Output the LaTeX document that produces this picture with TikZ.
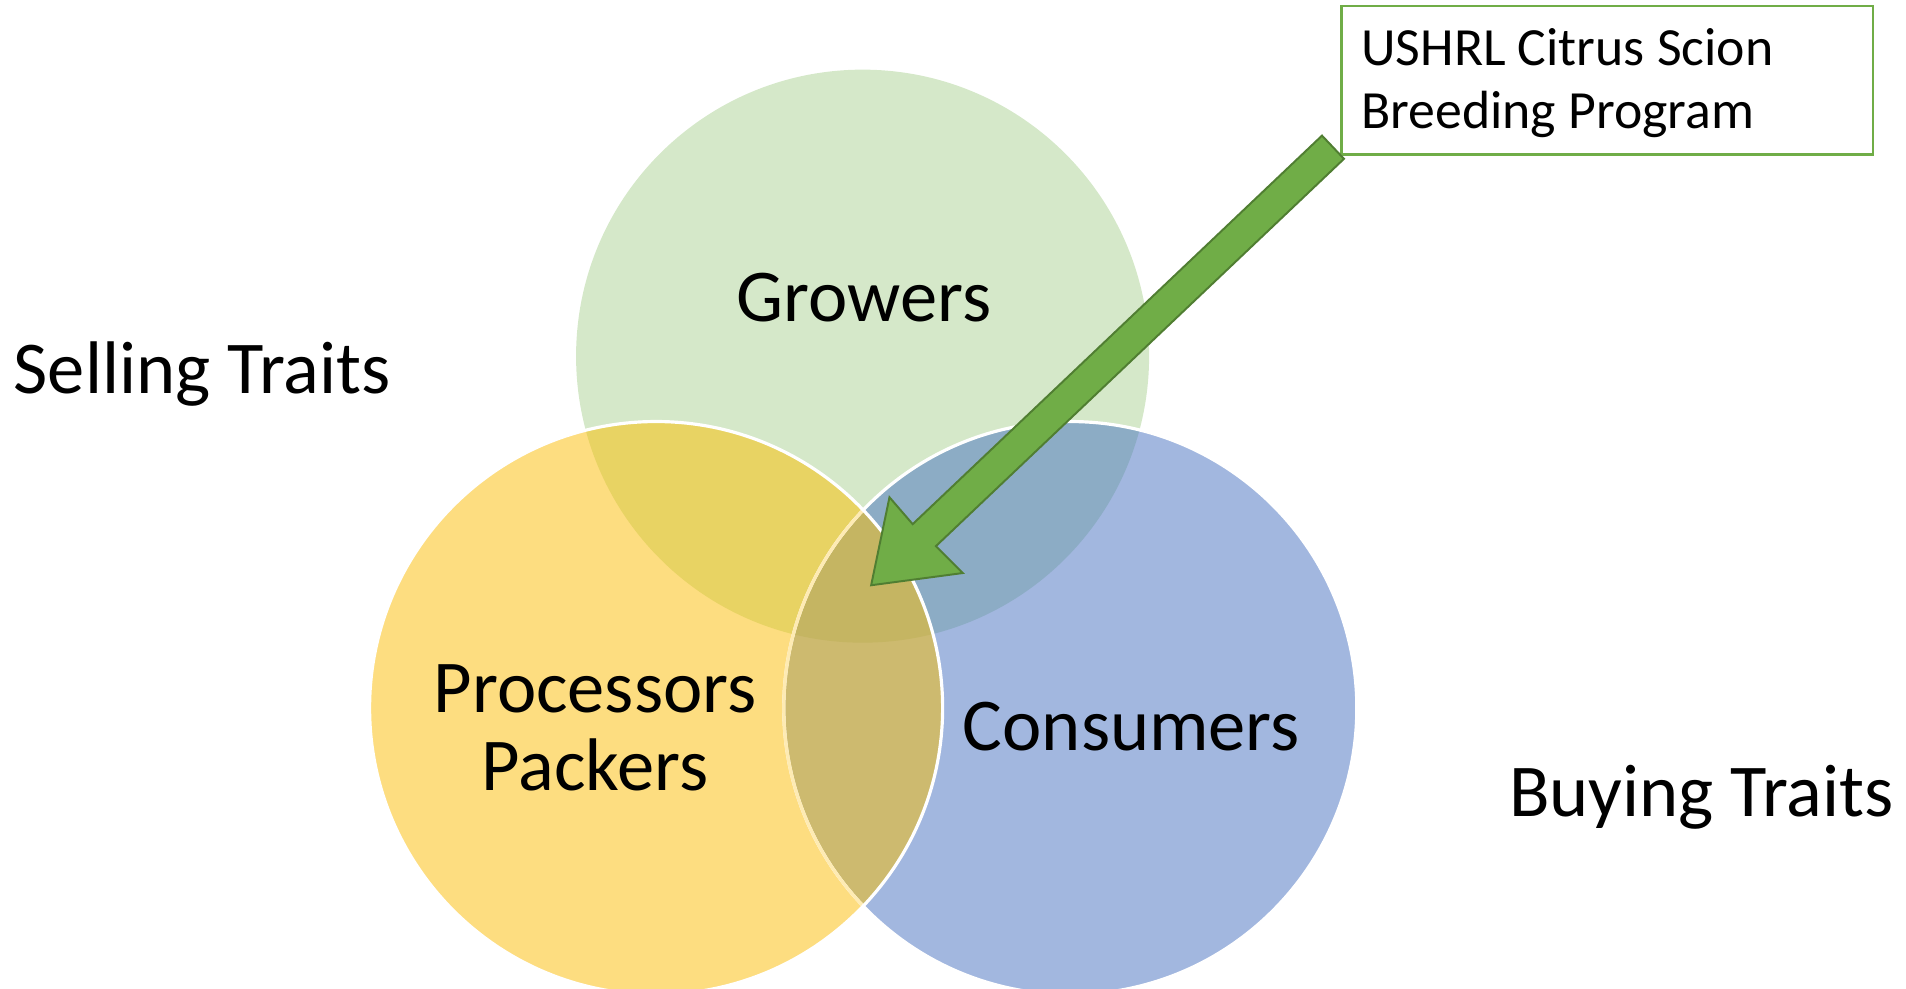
\documentclass[tikz,border=0pt]{standalone}
\usepackage{fontspec}
\setmainfont{Carlito}
\begin{document}
\begin{tikzpicture}[x=1pt,y=-1pt]
\definecolor{gOnly}{HTML}{D5E8C9}
\definecolor{yOnly}{HTML}{FDDD80}
\definecolor{bOnly}{HTML}{A2B7DF}
\definecolor{gyCol}{HTML}{E8D363}
\definecolor{gbCol}{HTML}{8CACC5}
\definecolor{ybCol}{HTML}{CDBA6F}
\definecolor{gybCol}{HTML}{C5B562}
\definecolor{arrFill}{HTML}{70AD47}
\definecolor{arrLine}{HTML}{507E32}
\tikzset{
  lbl/.style={font=\fontsize{61}{73}\selectfont, inner sep=0pt, text=black},
  boxtxt/.style={font=\fontsize{44}{52}\selectfont, inner sep=0pt, text=black, anchor=base west},
  ring/.style={draw=white, line width=2.6pt},
}
\useasboundingbox (0,0) rectangle (1560,808.7);
\def\R{234.5pt}
\coordinate (G) at (706,291.5);
\coordinate (Y) at (537,579.5);
\coordinate (B) at (876,579.5);
% base fills
\fill[gOnly] (G) circle (\R);
\fill[yOnly] (Y) circle (\R);
\fill[bOnly] (B) circle (\R);
% pairwise overlaps
\begin{scope}
  \clip (G) circle (\R);
  \fill[gyCol] (Y) circle (\R);
  \fill[gbCol] (B) circle (\R);
\end{scope}
\begin{scope}
  \clip (Y) circle (\R);
  \fill[ybCol] (B) circle (\R);
  \clip (G) circle (\R);
  \fill[gybCol] (B) circle (\R);
\end{scope}
% outlines
\draw[ring] (B) circle (\R);
\begin{scope}
  \clip (Y) circle (\R);
  \draw[line width=2.6pt, yOnly!60!white] (B) circle (\R);
\end{scope}
\draw[ring] (Y) circle (\R);
% labels
\node[lbl, anchor=base] (growers) at (707,263) {Growers};
\node[lbl, anchor=base west] (selling) at (11,322) {Selling Traits};
\node[lbl, anchor=base] (proc) at (487,583) {Processors};
\node[lbl, anchor=base] (pack) at (487,647) {Packers};
\node[lbl, anchor=base] (cons) at (926,614) {Consumers};
\node[lbl, anchor=base west] (buying) at (1235,668) {Buying Traits};
% program box
\node[draw=arrFill, line width=2pt, fill=white, minimum width=435pt, minimum height=121.5pt, inner sep=0pt, anchor=north west] (box) at (1097,4) {};
\node[boxtxt] (t1) at (1114,53.5) {USHRL Citrus Scion};
\node[boxtxt] (t2) at (1114,105.5) {Breeding Program};
% block arrow
\coordinate (tailA) at (1082,111);
\coordinate (tailB) at (1100,130);
\coordinate (innB) at (766,447);
\coordinate (headB) at (788,469);
\coordinate (tip) at (713,479);
\coordinate (headA) at (728,407);
\coordinate (innA) at (747,429);
\draw[fill=arrFill, draw=arrLine, line width=1.6pt, line join=miter]
  (tailA) -- (tailB) -- (innB) -- (headB) -- (tip) -- (headA) -- (innA) -- cycle;
\end{tikzpicture}
\end{document}
